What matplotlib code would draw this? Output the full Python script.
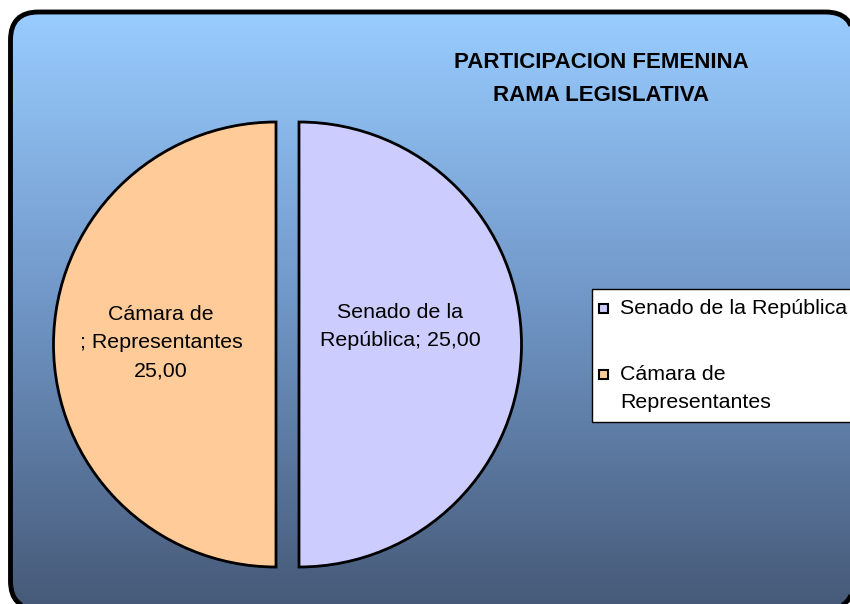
import numpy as np
import matplotlib
matplotlib.use('Agg')
import matplotlib.pyplot as plt
from matplotlib.patches import FancyBboxPatch, Rectangle, Polygon
from matplotlib.colors import LinearSegmentedColormap

# datos
categorias = ['Senado de la República', 'Cámara de Representantes']
valores = [25.00, 25.00]
colores = ['#CCCCFF', '#FFCC99']
etiquetas = ['Senado de la\nRepública; 25,00', 'Cámara de\n; Representantes\n25,00']
leyenda = [['Senado de la República'], ['Cámara de', 'Representantes']]
titulo = 'PARTICIPACION FEMENINA\nRAMA LEGISLATIVA'

plt.rcParams['font.family'] = ['Liberation Sans', 'DejaVu Sans']

W, H = 850, 604
fig = plt.figure(figsize=(8.5, 6.04), dpi=100)
ax = fig.add_axes([0, 0, 1, 1])

# fondo con degradado y borde redondeado (curvas pasadas a poligono)
caja = FancyBboxPatch((10.5, -5), 843, 597, boxstyle='round,pad=0,rounding_size=28')
vertices = caja.get_path().to_polygons()[0]
marco = Polygon(vertices, closed=True, facecolor='none', edgecolor='black',
                linewidth=3.5, zorder=3)
ax.add_patch(marco)
cmap = LinearSegmentedColormap.from_list('fondo', ['#465977', '#6F95C5', '#99CCFF'])
grad = np.linspace(0, 1, 256).reshape(-1, 1)
img = ax.imshow(grad, extent=(10.5, 853.5, -5, 592), origin='lower', cmap=cmap,
                aspect='auto', zorder=1)
img.set_clip_path(marco)

# torta (explode en unidades de datos)
cuñas, textos = ax.pie(valores, colors=colores, startangle=90, counterclock=False,
                       explode=[11.5, 11.5], radius=222.5, center=(287.5, 259.5),
                       wedgeprops=dict(edgecolor='black', linewidth=2),
                       frame=True)
for c in cuñas:
    c.set_zorder(4)
ax.set_xlim(0, W)
ax.set_ylim(0, H)
ax.set_aspect('equal')
ax.axis('off')

ax.text(400, 604 - 326, etiquetas[0], ha='center', va='center', fontsize=15.4,
        linespacing=1.6, zorder=5)
ax.text(161, 604 - 343, etiquetas[1], ha='center', va='center', fontsize=15.4,
        linespacing=1.6, zorder=5)

# título
ax.text(601, 604 - 79, titulo, ha='center', va='center', fontsize=16,
        fontweight='bold', linespacing=1.7, zorder=5)

# leyenda
ax.add_patch(Rectangle((592, 604 - 422), 300, 133, facecolor='white',
                       edgecolor='black', linewidth=1, zorder=5))
cuadros_y = [604 - 308, 604 - 374]
textos_y = [[604 - 308], [604 - 375, 604 - 403]]
for col, lineas, cy, ty in zip(colores, leyenda, cuadros_y, textos_y):
    ax.add_patch(Rectangle((599, cy - 4.5), 9, 9, facecolor=col, edgecolor='black',
                           linewidth=1.5, zorder=6))
    for lin, y in zip(lineas, ty):
        ax.text(620, y, lin, ha='left', va='center', fontsize=15.4, zorder=6)

fig.savefig('out.png', dpi=100)
